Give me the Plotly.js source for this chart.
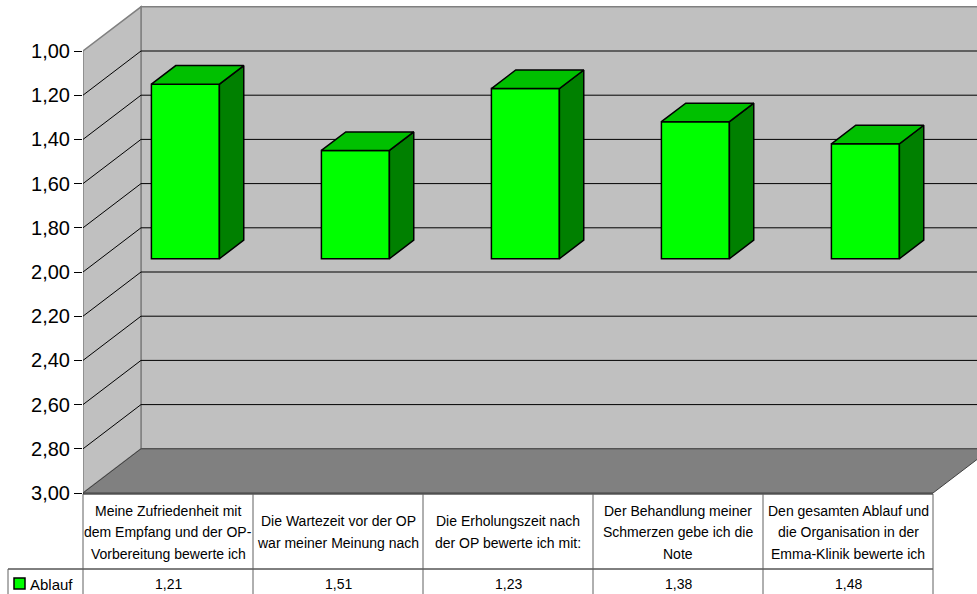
<!DOCTYPE html>
<html><head><meta charset="utf-8">
<script src="https://cdn.plot.ly/plotly-3.0.1.min.js"></script>
<style>html,body{margin:0;padding:0;background:#fff;overflow:hidden}</style>
</head><body><div id="chart" style="width:977px;height:594px"></div>
<script>
// ---------- data ----------
const seriesName = 'Ablauf';
const categoryLines = [
  ['Meine Zufriedenheit mit', 'dem Empfang und der OP-', 'Vorbereitung bewerte ich'],
  ['Die Wartezeit vor der OP', 'war meiner Meinung nach'],
  ['Die Erholungszeit nach', 'der OP bewerte ich mit:'],
  ['Der Behandlung meiner', 'Schmerzen gebe ich die', 'Note'],
  ['Den gesamten Ablauf und', 'die Organisation in der', 'Emma-Klinik bewerte ich']
];
const values = [1.21, 1.51, 1.23, 1.38, 1.48];
const tickValues = [1.0, 1.2, 1.4, 1.6, 1.8, 2.0, 2.2, 2.4, 2.6, 2.8, 3.0];
const tickText = ['1,00', '1,20', '1,40', '1,60', '1,80', '2,00', '2,20', '2,40', '2,60', '2,80', '3,00'];
const baseValue = 2.0;

// ---------- geometry ----------
const W = 977, H = 594, L = 83;
const colW = 170, pxPerUnit = 221, yTopPx = 51;
const yMin = 1.0, yMax = 3.0;
const nCat = values.length;
const xMin = -0.5, xMax = xMin + (W - L) / colW;
const yRangeTop = yMin - yTopPx / pxPerUnit;
const yRangeBottom = yMin + (H - yTopPx) / pxPerUnit;
const DX = 58 / colW, DY = 0.2;
const fFront = 0.3, fBack = 0.72, barW = 0.4;
const pxY = px => yMin + (px - yTopPx) / pxPerUnit;
const paperX = px => (px - L) / (W - L);
const paperY = px => 1 - px / H;
const FONT = 'Liberation Sans, Arial, sans-serif';

// ---------- traces ----------
const traces = [];
const xFront = values.map((v, i) => i + fFront * DX);
traces.push({
  type: 'bar', name: seriesName, x: xFront, y: values.map(v => v - baseValue),
  base: values.map(() => baseValue - fFront * DY), width: barW,
  marker: {color: '#00FF00', line: {color: '#000', width: 1.5}},
  showlegend: false, hoverinfo: 'skip'
});
const d = (fBack - fFront) * DX, dv = (fBack - fFront) * DY;
values.forEach((v, i) => {
  const xl = xFront[i] - barW / 2, xr = xFront[i] + barW / 2;
  const yb = baseValue - fFront * DY, yt = v - fFront * DY;
  traces.push({type: 'scatter', mode: 'lines', fill: 'toself', fillcolor: '#008000',
    x: [xr, xr + d, xr + d, xr, xr], y: [yb, yb - dv, yt - dv, yt, yb],
    line: {color: '#000', width: 1.5}, showlegend: false, hoverinfo: 'skip'});
  traces.push({type: 'scatter', mode: 'lines', fill: 'toself', fillcolor: '#00C000',
    x: [xl, xl + d, xr + d, xr, xl], y: [yt, yt - dv, yt - dv, yt, yt],
    line: {color: '#000', width: 1.5}, showlegend: false, hoverinfo: 'skip'});
});

// ---------- shapes ----------
const shapes = [];
const xEnd = xMin + nCat;
shapes.push({type: 'path', layer: 'below', xref: 'x', yref: 'y',
  path: `M${xMin + DX},${yMin - DY} L${xMax + DX + 1},${yMin - DY} L${xMax + DX + 1},${yMax - DY} L${xMin + DX},${yMax - DY} Z`,
  fillcolor: '#C0C0C0', line: {color: '#808080', width: 1.5}});
shapes.push({type: 'path', layer: 'below', xref: 'x', yref: 'y',
  path: `M${xMin},${yMin} L${xMin + DX},${yMin - DY} L${xMin + DX},${yMax - DY} L${xMin},${yMax} Z`,
  fillcolor: '#C0C0C0', line: {color: '#808080', width: 1.5}});
shapes.push({type: 'path', layer: 'below', xref: 'x', yref: 'y',
  path: `M${xMin},${yMax} L${xMin + DX},${yMax - DY} L${xEnd + DX},${yMax - DY} L${xEnd},${yMax} Z`,
  fillcolor: '#808080', line: {color: '#404040', width: 1}});
tickValues.slice(1, -1).forEach(t => {
  shapes.push({type: 'line', layer: 'below', xref: 'x', yref: 'y',
    x0: xMin + DX, x1: xMax + DX + 1, y0: t - DY, y1: t - DY, line: {color: '#000', width: 1}});
  shapes.push({type: 'line', layer: 'below', xref: 'x', yref: 'y',
    x0: xMin, x1: xMin + DX, y0: t, y1: t - DY, line: {color: '#000', width: 1}});
});
// table
shapes.push({type: 'line', xref: 'paper', yref: 'paper', x0: paperX(83), x1: paperX(933),
  y0: paperY(494), y1: paperY(494), line: {color: '#000', width: 1}});
shapes.push({type: 'line', xref: 'paper', yref: 'paper', x0: paperX(8), x1: paperX(933),
  y0: paperY(569), y1: paperY(569), line: {color: '#000', width: 1}});
for (let k = 0; k <= nCat; k++) {
  const px = 83 + k * colW;
  shapes.push({type: 'line', xref: 'paper', yref: 'paper', x0: paperX(px), x1: paperX(px),
    y0: paperY(494), y1: paperY(600), line: {color: '#606060', width: 1}});
}
shapes.push({type: 'line', xref: 'paper', yref: 'paper', x0: paperX(8), x1: paperX(8),
  y0: paperY(569), y1: paperY(600), line: {color: '#606060', width: 1}});
shapes.push({type: 'rect', xref: 'paper', yref: 'paper', x0: paperX(14), x1: paperX(25),
  y0: paperY(578), y1: paperY(589), fillcolor: '#00FF00', line: {color: '#000', width: 1.5}});

// ---------- annotations ----------
const annotations = [];
const lineGap = 21.5, headerMid = 532;
categoryLines.forEach((lines, i) => {
  lines.forEach((txt, j) => {
    const py = headerMid + (j - (lines.length - 1) / 2) * lineGap;
    annotations.push({xref: 'x', yref: 'y', x: i, y: pxY(py), text: txt, showarrow: false,
      xanchor: 'center', yanchor: 'middle', font: {family: FONT, size: 14, color: '#000'}});
  });
  annotations.push({xref: 'x', yref: 'y', x: i, y: pxY(584), text: values[i].toFixed(2).replace('.', ','),
    showarrow: false, xanchor: 'center', yanchor: 'middle', font: {family: FONT, size: 14, color: '#000'}});
});
annotations.push({xref: 'paper', yref: 'paper', x: paperX(28), y: paperY(584), text: seriesName,
  showarrow: false, xanchor: 'left', yanchor: 'middle', font: {family: FONT, size: 15, color: '#000'}});

const layout = {
  width: W, height: H, margin: {l: L, r: 0, t: 0, b: 0},
  paper_bgcolor: '#fff', plot_bgcolor: 'rgba(0,0,0,0)',
  xaxis: {range: [xMin, xMax], visible: false, fixedrange: true},
  yaxis: {range: [yRangeBottom, yRangeTop], tickvals: tickValues, ticktext: tickText,
    ticks: 'outside', ticklen: 8, tickcolor: '#000', tickwidth: 1, showgrid: false, zeroline: false,
    showline: false, tickfont: {family: FONT, size: 20, color: '#000'}, fixedrange: true},
  shapes: shapes, annotations: annotations, showlegend: false, bargap: 0
};
Plotly.newPlot('chart', traces, layout, {staticPlot: true, displayModeBar: false});
</script></body></html>
